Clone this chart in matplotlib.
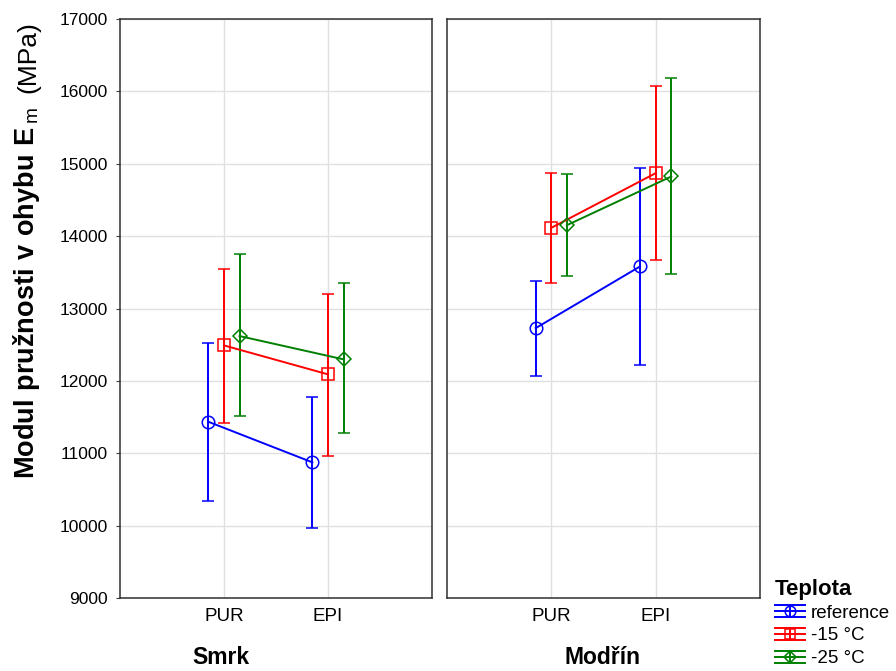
import numpy as np
import matplotlib.pyplot as plt
from matplotlib.lines import Line2D
from matplotlib.legend_handler import HandlerBase

plt.rcParams['font.family'] = ['Liberation Sans', 'DejaVu Sans']
plt.rcParams['mathtext.fontset'] = 'custom'
plt.rcParams['mathtext.rm'] = 'Liberation Sans'
plt.rcParams['mathtext.bf'] = 'Liberation Sans:bold'

# --- data ---
adhesives = ['PUR', 'EPI']
woods = ['Smrk', 'Modřín']
temps = ['reference', '-15 °C', '-25 °C']

# mean / upper / lower per wood, per temperature, per adhesive
smrk_mean = [[11435, 10874], [12490, 12090], [12619, 12297]]
smrk_hi = [[12518, 11776], [13549, 13195], [13751, 13347]]
smrk_lo = [[10340, 9967], [11417, 10965], [11514, 11275]]

modrin_mean = [[12729, 13581], [14115, 14870], [14152, 14824]]
modrin_hi = [[13374, 14943], [14866, 16081], [14852, 16180]]
modrin_lo = [[12070, 12214], [13355, 13669], [13448, 13475]]

colors = ['#0000ff', '#ff0000', '#008000']
markers = ['o', 's', 'D']
msizes = [9, 8.5, 7]
offsets = [-0.15, 0.0, 0.15]


class ErrBarHandler(HandlerBase):
    # statistica-like legend key: wide caps, vertical bar, marker on a line
    def create_artists(self, legend, orig_handle, xdescent, ydescent,
                       width, height, fontsize, trans):
        c = orig_handle.get_color()
        x0, x1 = -xdescent, -xdescent + width
        xm = (x0 + x1) / 2
        ym = -ydescent + height / 2
        d = 4.3
        arts = [
            Line2D([x0, x1], [ym, ym], color=c, lw=1.4),
            Line2D([x0, x1], [ym + d, ym + d], color=c, lw=1.4),
            Line2D([x0, x1], [ym - d, ym - d], color=c, lw=1.4),
            Line2D([xm, xm], [ym - d, ym + d], color=c, lw=1.4),
            Line2D([xm], [ym], color=c, marker=orig_handle.get_marker(),
                   markersize=orig_handle.get_markersize() * 0.85,
                   markerfacecolor='none', markeredgewidth=1.1),
        ]
        for a in arts:
            a.set_transform(trans)
        return arts


fig = plt.figure(figsize=(8.96, 6.71), dpi=100)
ax1 = fig.add_axes([120 / 896, 73 / 671, 312 / 896, 579 / 671])
ax2 = fig.add_axes([447 / 896, 73 / 671, 313 / 896, 579 / 671])

x = np.arange(1, len(adhesives) + 1)
for ax, means, his, los in [(ax1, smrk_mean, smrk_hi, smrk_lo),
                            (ax2, modrin_mean, modrin_hi, modrin_lo)]:
    for i in range(3):
        m = np.array(means[i])
        err = [m - np.array(los[i]), np.array(his[i]) - m]
        ax.errorbar(x + offsets[i], m, yerr=err, color=colors[i],
                    marker=markers[i], markersize=msizes[i],
                    markerfacecolor='none', markeredgewidth=1.1,
                    linewidth=1.4, elinewidth=1.4, capsize=4, capthick=1.4)

    ax.set_xlim(0, 3)
    ax.set_ylim(9000, 17000)
    ax.set_yticks(np.arange(9000, 17001, 1000))
    ax.set_xticks(x)
    ax.set_xticklabels(adhesives, fontsize=13.5)
    ax.grid(True, color='#e0e0e0', linewidth=1)
    ax.set_axisbelow(True)
    ax.tick_params(axis='x', length=0, pad=7)
    ax.tick_params(axis='y', direction='out', length=3, color='#404040')
    for s in ax.spines.values():
        s.set_color('#303030')
        s.set_linewidth(1.1)

ax1.tick_params(axis='y', labelsize=12.5, pad=6)
ax2.tick_params(axis='y', length=0, labelleft=False)

# y label: bold part + plain "(MPa)"
fig.text(27 / 896, 1 - 479 / 671,
         r'$\mathbf{Modul\ pružnosti\ v\ ohybu\ E}_{\,\mathrm{m}}$',
         fontsize=19.5, rotation=90, ha='center', va='bottom')
fig.text(28 / 896, 1 - 21 / 671, '(MPa)', fontsize=19,
         rotation=90, ha='center', va='top')

fig.text(221 / 896, 1 - 657 / 671, woods[0], fontsize=16.5, fontweight='bold', ha='center', va='center')
fig.text(603 / 896, 1 - 657 / 671, woods[1], fontsize=16.5, fontweight='bold', ha='center', va='center')

proxies = [Line2D([], [], color=colors[i], marker=markers[i], markersize=msizes[i]) for i in range(3)]
leg = fig.legend(handles=proxies, labels=temps, loc='lower left',
                 bbox_to_anchor=(773 / 896, 0.003), frameon=False, fontsize=13.5,
                 title='Teplota', title_fontproperties={'weight': 'bold', 'size': 16},
                 handler_map={Line2D: ErrBarHandler()},
                 handlelength=1.6, handletextpad=0.3, labelspacing=0.3,
                 borderpad=0.0, borderaxespad=0.1)
leg._legend_box.align = 'left'
leg._legend_box.sep = 3

fig.savefig('out.png', dpi=100)
